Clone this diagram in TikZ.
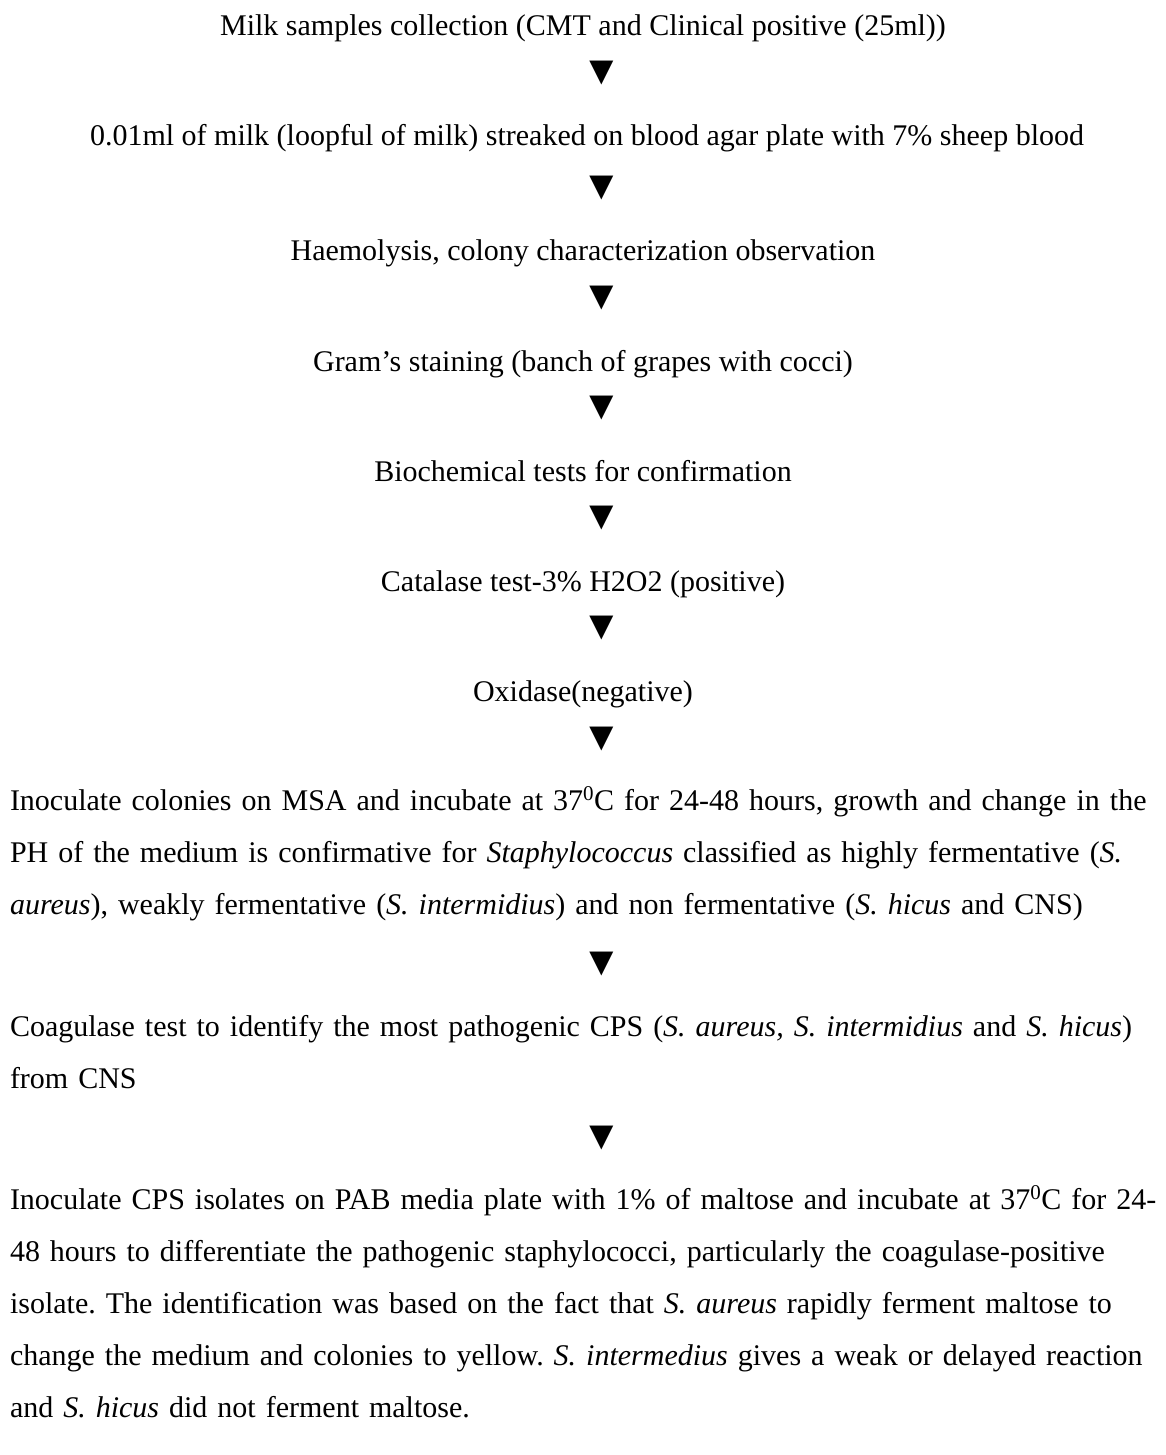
\documentclass[tikz,border=0pt]{standalone}
\usepackage{fontspec}
\setmainfont{Liberation Serif}
\frenchspacing
\begin{document}
\begin{tikzpicture}[x=1pt,y=-1pt,
  every node/.style={inner sep=0pt,outer sep=0pt,font=\fontsize{30}{52}\selectfont\frenchspacing},
  stepline/.style={anchor=base},
  para/.style={anchor=base west,text width=1250pt,align=left},
  arrowglyph/.style={anchor=center,font=\fontsize{41}{41}\selectfont}]
\useasboundingbox (0,0) rectangle (1166,1455);
\node[stepline] (s1) at (583,36) {Milk samples collection (CMT and Clinical positive (25ml))};
\node[arrowglyph] (a1) at (602,73) {▼};
\node[stepline] (s2) at (587,146) {0.01ml of milk (loopful of milk) streaked on blood agar plate with 7\% sheep blood};
\node[arrowglyph] (a2) at (602,188) {▼};
\node[stepline] (s3) at (583,261) {Haemolysis, colony characterization observation};
\node[arrowglyph] (a3) at (602,298) {▼};
\node[stepline] (s4) at (583,371) {Gram’s staining (banch of grapes with cocci)};
\node[arrowglyph] (a4) at (602,408) {▼};
\node[stepline] (s5) at (583,481) {Biochemical tests for confirmation};
\node[arrowglyph] (a5) at (602,518) {▼};
\node[stepline] (s6) at (583,591) {Catalase test-3\% H2O2 (positive)};
\node[arrowglyph] (a6) at (602,628) {▼};
\node[stepline] (s7) at (583,701) {Oxidase(negative)};
\node[arrowglyph] (a7) at (602,739) {▼};
\node[para] (s8) at (10,810) {Inoculate colonies on MSA and incubate at 37\textsuperscript{0}C for 24-48 hours, growth and change in the\\
PH of the medium is confirmative for \textit{Staphylococcus} classified as highly fermentative (\textit{S.}\\
\textit{aureus}), weakly fermentative (\textit{S. intermidius}) and non fermentative (\textit{S. hicus} and CNS)};
\node[arrowglyph] (a8) at (602,964) {▼};
\node[para] (s9) at (10,1036) {Coagulase test to identify the most pathogenic CPS (\textit{S. aureus, S. intermidius} and \textit{S. hicus})\\
from CNS};
\node[arrowglyph] (a9) at (602,1138) {▼};
\node[para] (s10) at (10,1209) {Inoculate CPS isolates on PAB media plate with 1\% of maltose and incubate at 37\textsuperscript{0}C for 24-\\
48 hours to differentiate the pathogenic staphylococci, particularly the coagulase-positive\\
isolate. The identification was based on the fact that \textit{S. aureus} rapidly ferment maltose to\\
change the medium and colonies to yellow. \textit{S. intermedius} gives a weak or delayed reaction\\
and \textit{S. hicus} did not ferment maltose.};
\end{tikzpicture}
\end{document}
